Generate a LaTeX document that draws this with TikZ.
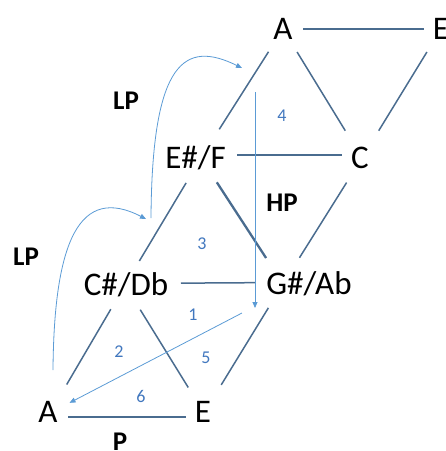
\documentclass[tikz,border=0pt]{standalone}
\usepackage{fontspec}
\setmainfont{Carlito}
\usetikzlibrary{arrows.meta}
\definecolor{edgeblue}{HTML}{4A6C8F}
\definecolor{arrowblue}{HTML}{5B9BD5}
\definecolor{numblue}{HTML}{4177BE}
\begin{document}
\begin{tikzpicture}[x=1pt,y=-1pt,
  note/.style={font=\fontsize{33}{33}\selectfont, inner sep=0pt, anchor=base},
  op/.style={font=\fontsize{27}{27}\selectfont\bfseries, inner sep=0pt},
  num/.style={font=\fontsize{18}{18}\selectfont, text=numblue, inner sep=0pt},
  edge/.style={draw=edgeblue, line width=1.5pt},
  move/.style={draw=arrowblue, line width=0.8pt, -{Triangle[length=6pt,width=5pt]}},
]
\useasboundingbox (0,0) rectangle (446,451);

% pitch names
\node[note] (nAt) at (283,39.5) {A};
\node[note] (nEt) at (441,39.5) {E};
\node[note] (nF)  at (195.5,168) {E\#/F};
\node[note] (nC)  at (360,168) {C};
\node[note] (nDb) at (126,295) {C\#/Db};
\node[note] (nAb) at (309,294) {G\#/Ab};
\node[note] (nAl) at (48,422) {A};
\node[note] (nEl) at (203,422) {E};

% lattice vertices attached to the pitch names
\coordinate (vAt) at ([yshift=10.5pt]nAt.base);
\coordinate (vEt) at ([yshift=10.5pt]nEt.base);
\coordinate (vF)  at ([xshift=5.5pt,yshift=10pt]nF.base);
\coordinate (vC)  at ([xshift=2pt,yshift=10pt]nC.base);
\coordinate (vDb) at ([xshift=-1pt,yshift=10pt]nDb.base);
\coordinate (vAb) at ([xshift=-26pt,yshift=10pt]nAb.base);
\coordinate (vAl) at ([xshift=2pt,yshift=9pt]nAl.base);
\coordinate (vEl) at ([xshift=1pt,yshift=9pt]nEl.base);

% Tonnetz edges
\draw[edge, shorten <=20pt, shorten >=17pt] (vAt) -- (vEt);
\draw[edge, shorten <=27pt, shorten >=34pt] (vAt) -- (vF);
\draw[edge, shorten <=27pt, shorten >=32pt] (vAt) -- (vC);
\draw[edge, shorten <=27pt, shorten >=32pt] (vEt) -- (vC);
\draw[edge, shorten <=36pt, shorten >=20pt, transform canvas={yshift=3pt}] (vF) -- (vC);
\draw[edge, shorten <=29pt, shorten >=28pt] (vF) -- (vDb);
\draw[edge, line width=2.3pt, shorten <=29pt, shorten >=31pt] (vF) -- (vAb);
\draw[edge, shorten <=29pt, shorten >=31pt] (vC) -- (vAb);
\draw[edge, shorten <=56pt, shorten >=28pt, transform canvas={yshift=1.5pt}] (vDb) -- (vAb);
\draw[edge, shorten <=28pt, shorten >=33pt] (vDb) -- (vAl);
\draw[edge, shorten <=29pt, shorten >=30pt] (vDb) -- (vEl);
\draw[edge, shorten <=28pt, shorten >=33pt] (vAb) -- (vEl);
\draw[edge, shorten <=18pt, shorten >=18pt, transform canvas={yshift=-4pt}] (vAl) -- (vEl);

% transformation moves
\coordinate (hpTop) at (255,92);
\coordinate (hpTip) at (255,308);
\draw[move] (hpTop) -- (hpTip);
\coordinate (pStart) at (242,313);
\draw[move, shorten >=22pt] (pStart) -- (vAl);
\coordinate (lpOneS) at (151,218);
\coordinate (lpOneE) at (242,68);
\draw[move] (lpOneS) .. controls (152,60) and (185,40) .. (lpOneE);
\coordinate (lpTwoS) at (53,370);
\coordinate (lpTwoE) at (146,219);
\draw[move] (lpTwoS) .. controls (54,240) and (80,185) .. (lpTwoE);

% operation labels
\node[op] (lpA) at (126,101) {LP};
\node[op] (lpB) at (26,257) {LP};
\node[op] (hp)  at (282,203) {HP};
\node[op] (pp)  at (120,442) {P};

% step numbers
\node[num] (s4) at (282,116) {4};
\node[num] (s3) at (202,244) {3};
\node[num] (s1) at (193,315) {1};
\node[num] (s2) at (119,352) {2};
\node[num] (s5) at (206,358) {5};
\node[num] (s6) at (141,396) {6};
\end{tikzpicture}
\end{document}
